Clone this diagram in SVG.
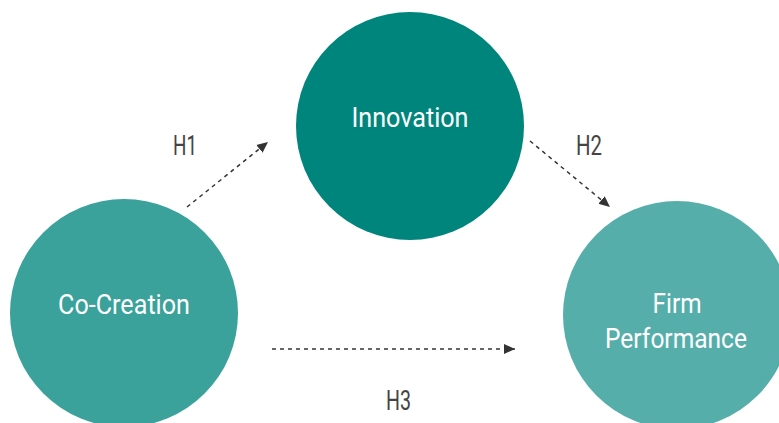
<svg xmlns="http://www.w3.org/2000/svg" width="779" height="423" viewBox="0 0 779 423">
<style>
.lbl{font-family:Roboto,"Liberation Sans",sans-serif;font-size:28px;fill:#ffffff;text-anchor:middle}
.h{font-family:Roboto,"Liberation Sans",sans-serif;font-size:27px;fill:#444444;font-weight:400}
.c{stroke:#333333;stroke-width:1.5;stroke-dasharray:4 4;fill:none}
</style>
<defs>
<marker id="ah" markerWidth="12" markerHeight="12" refX="11" refY="6" orient="auto" markerUnits="userSpaceOnUse">
<path d="M0,1 L11,6 L0,11 Z" fill="#333333"/>
</marker>
</defs>
<rect width="779" height="423" fill="#ffffff"/>
<g id="innovation">
<circle cx="410" cy="126" r="114" fill="#00857c"/>
<text class="lbl" x="410" y="127" textLength="117" lengthAdjust="spacingAndGlyphs">Innovation</text>
</g>
<g id="co-creation">
<circle cx="124" cy="313" r="114" fill="#3aa29b"/>
<text class="lbl" x="124" y="314" textLength="132" lengthAdjust="spacingAndGlyphs">Co-Creation</text>
</g>
<g id="firm-performance">
<circle cx="677" cy="315" r="114" fill="#56aeaa"/>
<text class="lbl" x="677" y="313" textLength="49" lengthAdjust="spacingAndGlyphs">Firm</text>
<text class="lbl" x="676" y="348" textLength="142" lengthAdjust="spacingAndGlyphs">Performance</text>
</g>
<g id="connectors">
<line class="c" x1="187" y1="207" x2="268" y2="142" marker-end="url(#ah)"/>
<line class="c" x1="530" y1="141" x2="610" y2="207" marker-end="url(#ah)"/>
<line class="c" x1="272" y1="349" x2="515" y2="349" marker-end="url(#ah)"/>
</g>
<g id="labels">
<text class="h" x="173" y="155" textLength="24" lengthAdjust="spacingAndGlyphs">H1</text>
<text class="h" x="576" y="155" textLength="26" lengthAdjust="spacingAndGlyphs">H2</text>
<text class="h" x="386" y="410" textLength="25" lengthAdjust="spacingAndGlyphs">H3</text>
</g>
</svg>
